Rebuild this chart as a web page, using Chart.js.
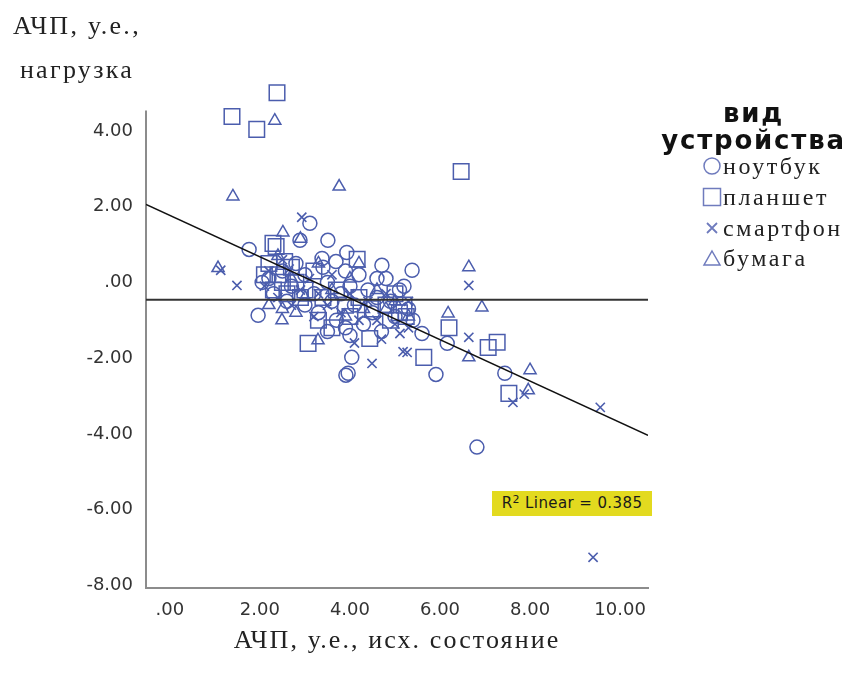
<!DOCTYPE html>
<html>
<head>
<meta charset="utf-8">
<script src="https://cdn.jsdelivr.net/npm/chart.js@4.4.1/dist/chart.umd.min.js"></script>
<style>
  html, body { margin: 0; padding: 0; background: #fff; }
  #wrap { position: relative; width: 857px; height: 673px; }
  canvas { position: absolute; left: 0; top: 0; }
  .serif { position: absolute; font-family: "Liberation Serif", "Times New Roman", serif; color: #222; white-space: nowrap; }
  .ytitle { left: 0; width: 154px; text-align: center; font-size: 26px; line-height: 1; letter-spacing: 2.3px; }
  .xtitle { left: 134px; width: 526px; top: 625px; text-align: center; font-size: 26px; letter-spacing: 2.1px; }
  .legend-title { position: absolute; left: 650px; width: 207px; top: 100px; text-align: center;
    font-family: "DejaVu Sans", Arial, sans-serif; font-weight: bold; font-size: 26px; line-height: 27px;
    letter-spacing: 1.8px; color: #111; }
  .legend-item { position: absolute; left: 702px; height: 30px; display: flex; align-items: center;
    font-family: "Liberation Serif", serif; font-size: 24px; color: #222; letter-spacing: 2.6px; white-space: nowrap; }
  .legend-item svg { margin-right: 1px; }
  .r2 { position: absolute; left: 492px; top: 491px; width: 160px; height: 25px; background: #e3da1f;
    font-family: "DejaVu Sans", Arial, sans-serif; font-size: 15px; line-height: 25px; color: #1a1a1a;
    text-align: center; letter-spacing: 0.4px; }
  .r2 sup { font-size: 11px; vertical-align: 5px; line-height: 0; }
</style>
</head>
<body>
<div id="wrap">
  <canvas id="scatterChart" width="857" height="673"></canvas>
  <div class="serif ytitle" style="top:13px">АЧП, у.е.,</div>
  <div class="serif ytitle" style="top:57px">нагрузка</div>
  <div class="serif xtitle">АЧП, у.е., исх. состояние</div>
  <div class="legend-title">вид<br>устройства</div>
  <div class="legend-item" style="top:151px"><svg width="20" height="20"><circle cx="10" cy="10" r="8" fill="none" stroke="#6f7bbd" stroke-width="1.5"/></svg>ноутбук</div>
  <div class="legend-item" style="top:182px"><svg width="20" height="20"><rect x="1.5" y="1.5" width="17" height="17" fill="none" stroke="#6f7bbd" stroke-width="1.5"/></svg>планшет</div>
  <div class="legend-item" style="top:213px"><svg width="20" height="20"><path d="M5 5 L15 15 M15 5 L5 15" stroke="#6f7bbd" stroke-width="1.8"/></svg>смартфон</div>
  <div class="legend-item" style="top:243px"><svg width="20" height="20"><path d="M10 3 L18 17 L2 17 Z" fill="none" stroke="#6f7bbd" stroke-width="1.5"/></svg>бумага</div>
  <div class="r2">R<sup>2</sup> Linear = 0.385</div>
</div>
<script>
// данные: [АЧП исх., АЧП нагрузка]
const notebook = [
  [1.76, 0.87], [3.11, 1.56], [2.89, 1.11], [3.51, 1.11], [3.38, 0.63], [3.93, 0.79],
  [4.71, 0.45], [5.38, 0.32], [1.96, -0.87], [4.04, -1.98], [3.96, -2.40], [3.91, -2.45],
  [5.60, -1.35], [5.91, -2.43], [7.44, -2.40], [6.82, -4.35], [6.16, -1.61], [3.69, 0.55],
  [2.20, 0.10], [2.50, 0.30], [2.70, -0.10], [3.00, 0.20], [3.20, -0.30], [3.50, 0.00],
  [3.60, -0.50], [3.80, -0.30], [4.00, -0.10], [4.10, -0.60], [4.20, 0.20], [4.40, -0.20],
  [4.50, -0.80], [4.60, -0.40], [4.80, 0.10], [4.90, -0.50], [5.00, -0.90], [5.10, -0.20],
  [5.30, -0.70], [3.30, -0.80], [3.70, -1.00], [3.90, -1.20], [4.30, -1.10], [2.80, 0.50],
  [3.40, 0.40], [3.90, 0.30], [4.60, 0.10], [2.30, -0.30], [3.00, -0.60], [5.40, -1.00],
  [4.70, -1.30], [4.00, -1.40], [3.50, -1.30], [2.60, -0.50], [5.20, -0.10], [2.05, 0.00]
];
const tablet = [
  [2.38, 5.01], [1.38, 4.38], [1.93, 4.04], [6.47, 2.93], [3.07, -1.61], [4.44, -1.48],
  [5.64, -1.98], [6.20, -1.20], [7.07, -1.72], [7.27, -1.58], [7.53, -2.93], [2.29, 1.03],
  [2.36, 0.95], [4.16, 0.61], [2.20, 0.50], [2.40, 0.20], [2.50, 0.00], [2.30, -0.20],
  [2.70, 0.40], [2.80, 0.00], [2.60, -0.30], [3.00, -0.20], [3.20, 0.30], [3.40, -0.40],
  [3.70, -0.20], [3.90, -0.60], [4.00, -0.90], [4.20, -0.40], [4.50, -0.70], [4.80, -0.60],
  [5.00, -0.30], [5.10, -0.80], [5.20, -0.60], [3.60, -1.20], [3.30, -1.00], [4.90, -1.00],
  [2.10, 0.20], [2.55, 0.55], [2.90, -0.40], [5.25, -0.90]
];
const smartphone = [
  [9.56, -3.30], [9.40, -7.26], [7.62, -3.17], [6.64, -0.08], [6.64, -1.45], [1.13, 0.32],
  [1.49, -0.08], [2.93, 1.72], [4.49, -2.14], [5.27, -1.85], [5.18, -1.83], [5.11, -1.35],
  [7.87, -2.95], [2.10, -0.10], [2.40, -0.40], [2.70, -0.60], [2.90, -0.20], [3.10, 0.10],
  [3.30, -0.30], [3.50, -0.60], [3.80, -0.80], [4.00, -0.30], [4.20, -1.00], [4.40, -0.50],
  [4.60, -1.00], [4.80, -0.30], [5.00, -1.10], [5.30, -1.20], [5.30, -0.50], [3.60, 0.20],
  [2.50, 0.60], [4.70, -1.50], [2.20, 0.30], [3.20, -0.90], [4.10, -1.60], [2.65, 0.35]
];
const paper = [
  [1.40, 2.27], [2.33, 4.27], [3.76, 2.53], [2.51, 1.32], [1.07, 0.38], [6.64, 0.40],
  [6.93, -0.66], [6.18, -0.82], [6.64, -1.98], [7.96, -2.85], [8.00, -2.32], [2.49, -1.00],
  [3.29, -1.53], [2.40, 0.70], [2.70, 0.10], [3.00, -0.40], [3.30, 0.50], [3.60, -0.20],
  [4.00, 0.10], [4.30, -0.70], [4.60, -0.20], [5.00, -0.50], [2.20, -0.60], [2.80, -0.80],
  [3.90, -0.90], [5.30, -0.90], [4.80, -0.70], [4.20, 0.50], [2.50, -0.70], [2.90, 1.15]
];
// линия регрессии и горизонтальная линия (концы на краях осей)
const fitLine = [[-0.53, 2.06], [10.62, -4.04]];
const meanLine = [[-0.53, -0.46], [10.62, -0.46]];
const xTicks = [0, 2, 4, 6, 8, 10];
const yTicks = [4, 2, 0, -2, -4, -6, -8];
const xRange = [-0.53, 10.62];
const yRange = [-8.07, 5.45];
const yAxisTop = 4.54; // ось Y рисуется только до этого значения

const markerColor = '#4b5dad';
const toPoints = (arr) => arr.map(([x, y]) => ({ x, y }));
const fmt = (v) => (v === 0 ? '.00' : v.toFixed(2));

const series = (label, data, style, radius, width) => ({
  type: 'scatter',
  label,
  data: toPoints(data),
  pointStyle: style,
  pointRadius: radius,
  pointHoverRadius: radius,
  pointBorderWidth: width,
  borderColor: markerColor,
  backgroundColor: 'transparent',
  clip: false,
});

// вертикальная ось короче области графика (как в SPSS)
const yAxisLine = {
  id: 'yAxisLine',
  beforeDatasetsDraw(chart) {
    const { ctx, chartArea, scales } = chart;
    const top = scales.y.getPixelForValue(yAxisTop);
    ctx.save();
    ctx.strokeStyle = '#8c8c8c';
    ctx.lineWidth = 2;
    ctx.beginPath();
    ctx.moveTo(chartArea.left, top);
    ctx.lineTo(chartArea.left, chartArea.bottom + 1);
    ctx.stroke();
    ctx.restore();
  },
};

const ctx = document.getElementById('scatterChart').getContext('2d');
new Chart(ctx, {
  data: {
    datasets: [
      {
        type: 'line', label: 'fit', data: toPoints(fitLine),
        borderColor: '#111', borderWidth: 1.6, pointRadius: 0, fill: false, order: 0,
      },
      {
        type: 'line', label: 'mean', data: toPoints(meanLine),
        borderColor: '#333', borderWidth: 2, pointRadius: 0, fill: false, order: 0,
      },
      series('ноутбук', notebook, 'circle', 7, 1.5),
      series('планшет', tablet, 'rect', 11, 1.5),
      series('смартфон', smartphone, 'crossRot', 6.5, 1.6),
      series('бумага', paper, 'triangle', 7, 1.5),
    ],
  },
  plugins: [yAxisLine],
  options: {
    responsive: false,
    animation: false,
    layout: { padding: { top: 76, right: 209, left: 0, bottom: 0 } },
    plugins: { legend: { display: false }, tooltip: { enabled: false } },
    scales: {
      x: {
        type: 'linear',
        min: xRange[0],
        max: xRange[1],
        afterBuildTicks: (axis) => { axis.ticks = xTicks.map((v) => ({ value: v })); },
        afterFit: (scale) => { scale.height = 85; },
        grid: { display: false, drawTicks: false },
        border: { color: '#8c8c8c', width: 2 },
        ticks: {
          padding: 12,
          color: '#333',
          font: { family: 'DejaVu Sans', size: 18 },
          callback: fmt,
          maxRotation: 0,
        },
      },
      y: {
        type: 'linear',
        min: yRange[0],
        max: yRange[1],
        afterBuildTicks: (axis) => { axis.ticks = yTicks.map((v) => ({ value: v })); },
        afterFit: (scale) => { scale.width = 146; },
        grid: { display: false, drawTicks: false },
        border: { display: false },
        ticks: {
          padding: 13,
          color: '#333',
          font: { family: 'DejaVu Sans', size: 18 },
          callback: fmt,
        },
      },
    },
  },
});
</script>
</body>
</html>
